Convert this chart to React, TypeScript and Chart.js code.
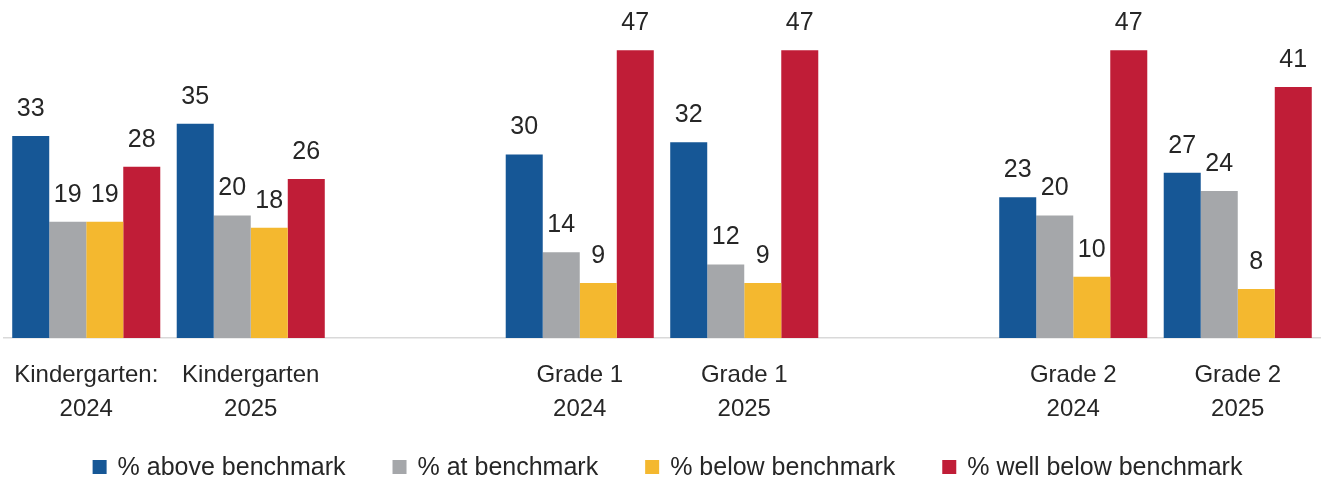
import React, { useEffect, useRef } from "react";
import { Chart, registerables } from "chart.js";

Chart.register(...registerables);

const categories: (string | string[])[] = [
  ["Kindergarten:", "2024"],
  ["Kindergarten", "2025"],
  "",
  ["Grade 1", "2024"],
  ["Grade 1", "2025"],
  "",
  ["Grade 2", "2024"],
  ["Grade 2", "2025"],
];

const seriesNames = [
  "% above benchmark",
  "% at benchmark",
  "% below benchmark",
  "% well below benchmark",
];

const aboveBenchmark = [33, 35, null, 30, 32, null, 23, 27];
const atBenchmark = [19, 20, null, 14, 12, null, 20, 24];
const belowBenchmark = [19, 18, null, 9, 9, null, 10, 8];
const wellBelowBenchmark = [28, 26, null, 47, 47, null, 47, 41];

const seriesColors = ["#165796", "#a5a7aa", "#f4b82f", "#c01d37"];

const TEXT_COLOR = "#262626";
const FONT_FAMILY = "'Liberation Sans', Arial, sans-serif";

const valueLabelPlugin = {
  id: "valueLabels",
  afterDatasetsDraw(chart: any) {
    const ctx = chart.ctx;
    ctx.save();
    ctx.font = `25px ${FONT_FAMILY}`;
    ctx.fillStyle = TEXT_COLOR;
    ctx.textAlign = "center";
    ctx.textBaseline = "middle";
    chart.data.datasets.forEach((ds: any, di: number) => {
      const meta = chart.getDatasetMeta(di);
      meta.data.forEach((el: any, i: number) => {
        const v = ds.data[i];
        if (v === null || v === undefined) return;
        ctx.fillText(String(v), el.x, el.y - 27);
      });
    });
    ctx.restore();
  },
};

const legendPlugin = {
  id: "customLegend",
  afterDraw(chart: any) {
    const ctx = chart.ctx;
    ctx.save();
    ctx.font = `25px ${FONT_FAMILY}`;
    ctx.textBaseline = "middle";
    ctx.textAlign = "left";
    const box = 14;
    const boxGap = 11;
    const itemGap = 47;
    const items = chart.data.datasets.map((ds: any) => ({
      label: ds.label,
      color: ds.backgroundColor,
      w: box + boxGap + ctx.measureText(ds.label).width,
    }));
    const total =
      items.reduce((s: number, it: any) => s + it.w, 0) +
      itemGap * (items.length - 1);
    let x = chart.width / 2 - total / 2 + 5;
    const yc = 467;
    items.forEach((it: any) => {
      ctx.fillStyle = it.color;
      ctx.fillRect(x, yc - box / 2, box, box);
      ctx.fillStyle = TEXT_COLOR;
      ctx.fillText(it.label, x + box + boxGap, yc + 1);
      x += it.w + itemGap;
    });
    ctx.restore();
  },
};

export default function App() {
  const canvasRef = useRef<HTMLCanvasElement | null>(null);

  useEffect(() => {
    if (!canvasRef.current) return;
    const allSeries = [aboveBenchmark, atBenchmark, belowBenchmark, wellBelowBenchmark];
    const chart = new Chart(canvasRef.current, {
      type: "bar",
      data: {
        labels: categories,
        datasets: allSeries.map((values, i) => ({
          label: seriesNames[i],
          data: values,
          backgroundColor: seriesColors[i],
          borderWidth: 0,
          barPercentage: 1,
          categoryPercentage: 0.9,
        })),
      },
      options: {
        responsive: false,
        animation: false,
        layout: { padding: { left: 4, right: 5, top: 32, bottom: 33 } },
        plugins: {
          legend: { display: false },
          tooltip: { enabled: false },
          title: { display: false },
        },
        scales: {
          x: {
            grid: { display: false, drawTicks: false },
            border: { display: true, color: "#d9d9d9", width: 1.5 },
            ticks: {
              color: TEXT_COLOR,
              font: { family: FONT_FAMILY, size: 24, lineHeight: 34 / 24 },
              padding: 20,
              maxRotation: 0,
              autoSkip: false,
            },
            afterFit(scale: any) {
              scale.paddingLeft = 0;
              scale.paddingRight = 0;
            },
          },
          y: {
            display: false,
            min: 0,
            max: 50,
          },
        },
      },
      plugins: [valueLabelPlugin, legendPlugin],
    });
    return () => chart.destroy();
  }, []);

  return (
    <div style={{ position: "fixed", left: 0, top: 0, width: 1325, height: 479, background: "#ffffff" }}>
      <canvas ref={canvasRef} width={1325} height={479} style={{ width: 1325, height: 479 }} />
    </div>
  );
}
